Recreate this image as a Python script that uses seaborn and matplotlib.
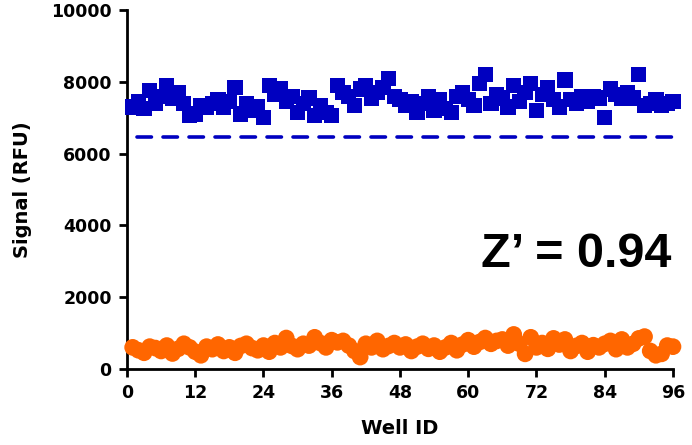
import numpy as np
import pandas as pd
import matplotlib
matplotlib.use("Agg")
import matplotlib.pyplot as plt
from matplotlib import font_manager
import seaborn as sns

# valores (poços 1..96)
sinal_max = [7300, 7450, 7250, 7750, 7400, 7600, 7900, 7550, 7700, 7400, 7050, 7100,
             7350, 7300, 7400, 7500, 7300, 7450, 7850, 7100, 7400, 7200, 7300, 7000,
             7900, 7650, 7800, 7450, 7600, 7150, 7400, 7550, 7050, 7350, 7150, 7050,
             7900, 7700, 7600, 7350, 7800, 7900, 7550, 7700, 7850, 8100, 7600, 7500,
             7350, 7450, 7150, 7400, 7600, 7200, 7500, 7250, 7150, 7600, 7700, 7500,
             7350, 7950, 8200, 7400, 7650, 7550, 7300, 7900, 7450, 7700, 7950, 7200,
             7650, 7850, 7500, 7300, 8050, 7500, 7400, 7600, 7450, 7600, 7550, 7000,
             7800, 7650, 7550, 7700, 7550, 8200, 7350, 7400, 7500, 7350, 7400, 7450]
sinal_min = [600, 520, 450, 620, 580, 500, 650, 430, 560, 700, 600, 480,
             380, 620, 550, 680, 500, 600, 450, 640, 700, 580, 520, 650,
             480, 720, 600, 860, 640, 550, 700, 650, 880, 720, 600, 800,
             740, 780, 650, 500, 330, 700, 600, 780, 550, 640, 720, 600,
             680, 500, 620, 700, 560, 650, 480, 600, 720, 520, 680, 800,
             620, 750, 860, 700, 780, 820, 650, 960, 700, 420, 880, 600,
             720, 560, 850, 680, 820, 500, 640, 720, 480, 660, 600, 700,
             780, 550, 820, 600, 700, 850, 900, 500, 380, 420, 650, 620]
limiar = 6450
x_ticks = [0, 12, 24, 36, 48, 60, 72, 84, 96]
y_ticks = [0, 2000, 4000, 6000, 8000, 10000]

pocos = np.arange(1, len(sinal_max) + 1)
df = pd.DataFrame({'Well': pocos, 'Max': sinal_max, 'Min': sinal_min})

sns.set_style("ticks")
plt.rcParams['font.family'] = ['DejaVu Sans']
plt.rcParams['text.color'] = 'black'
plt.rcParams['xtick.color'] = 'black'
plt.rcParams['ytick.color'] = 'black'
plt.rcParams['axes.labelcolor'] = 'black'

# procura o arquivo do Liberation Sans Bold (sem "Narrow")
arquivo_z = None
for f in font_manager.fontManager.ttflist:
    if f.name == 'Liberation Sans' and f.weight in (700, 'bold') and f.style == 'normal' \
            and 'narrow' not in f.fname.lower():
        arquivo_z = f.fname
        break
if arquivo_z:
    fonte_z = font_manager.FontProperties(fname=arquivo_z, size=35)
else:
    fonte_z = font_manager.FontProperties(family='Liberation Sans', weight='bold', size=35)
print(arquivo_z)

fig = plt.figure(figsize=(6.92, 4.45), dpi=100)
ax = fig.add_axes([0.1835, 0.171, 0.7890, 0.8065])

sns.scatterplot(data=df, x='Well', y='Max', marker='s', s=120, color='#0000C0',
                edgecolor='none', ax=ax, clip_on=False, zorder=3)
sns.scatterplot(data=df, x='Well', y='Min', marker='o', s=145, color='#FF6600',
                edgecolor='none', ax=ax, clip_on=False, zorder=3)

# linha de corte tracejada
ax.plot([1.8, 97], [limiar, limiar], color='#0000C0', lw=2.6,
        linestyle=(0, (4, 3.2)), dash_capstyle='round', clip_on=False)

ax.text(95.8, 3200, 'Z\u2019 = 0.94', fontproperties=fonte_z,
        ha='right', va='center', color='black')

ax.set_xlim(0, 96)
ax.set_ylim(0, 10000)
ax.set_xticks(x_ticks)
ax.set_yticks(y_ticks)
ax.tick_params(axis='both', labelsize=12.5, width=2, length=6, color='black',
               labelcolor='black', direction='out', pad=5)
for lab in ax.get_xticklabels() + ax.get_yticklabels():
    lab.set_fontweight('bold')

for lado in ['top', 'right']:
    ax.spines[lado].set_visible(False)
for lado in ['left', 'bottom']:
    ax.spines[lado].set_linewidth(2)
    ax.spines[lado].set_color('black')

ax.set_xlabel('Well ID', fontsize=14, fontweight='bold', labelpad=12, color='black')
ax.set_ylabel('Signal (RFU)', fontsize=14, fontweight='bold', labelpad=14, color='black')

fig.savefig('out.png', dpi=100)
